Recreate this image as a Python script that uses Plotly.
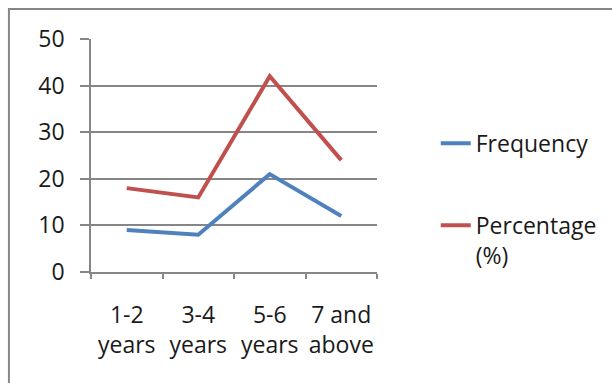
import plotly.graph_objects as go

# Years of experience groups and the two series plotted against them
categories = ["1-2<br>years", "3-4<br>years", "5-6<br>years", "7 and<br>above"]
frequency = [9, 8, 21, 12]
percentage = [18, 16, 42, 24]
series_names = ["Frequency", "Percentage<br>(%)"]
y_ticks = [0, 10, 20, 30, 40, 50]

GRID = "#868686"
FONT = dict(family="Open Sans", size=23, color="#1a1a1a")

fig = go.Figure()
fig.add_trace(go.Scatter(
    x=categories, y=frequency, name=series_names[0], mode="lines",
    line=dict(color="#4F81BD", width=4), legendgroup="a",
))
fig.add_trace(go.Scatter(
    x=categories, y=percentage, name=series_names[1], mode="lines",
    line=dict(color="#C0504D", width=4), legendgroup="b",
))

fig.update_layout(
    width=612, height=383,
    margin=dict(l=91, r=235, t=39, b=111),
    paper_bgcolor="white", plot_bgcolor="white",
    font=FONT,
    showlegend=True,
    legend=dict(
        xref="container", yref="container",
        x=0.712, y=0.682, xanchor="left", yanchor="top",
        traceorder="grouped", tracegroupgap=49, valign="top",
        font=FONT, bgcolor="rgba(0,0,0,0)",
    ),
    xaxis=dict(
        type="category", range=[-0.5, 3.5],
        showline=True, linecolor=GRID, linewidth=1.5,
        ticks="outside", tickson="boundaries", ticklen=5,
        tickcolor=GRID, tickwidth=1.5, tickangle=0, automargin=False,
        showgrid=False, tickfont=FONT, ticklabelstandoff=22,
    ),
    yaxis=dict(
        range=[0, 50], tickvals=y_ticks, automargin=False,
        showline=True, linecolor=GRID, linewidth=1.5,
        ticks="outside", ticklen=9, tickcolor=GRID, tickwidth=1.5,
        showgrid=True, gridcolor=GRID, gridwidth=1.5,
        zeroline=False, tickfont=FONT, ticklabelstandoff=11,
    ),
    shapes=[dict(
        type="rect", xref="paper", yref="paper",
        x0=-0.287, x1=2.5, y0=-1.0, y1=1.129,
        line=dict(color=GRID, width=2), fillcolor="rgba(0,0,0,0)",
        layer="below",
    )],
)

fig.write_html("out.html")
